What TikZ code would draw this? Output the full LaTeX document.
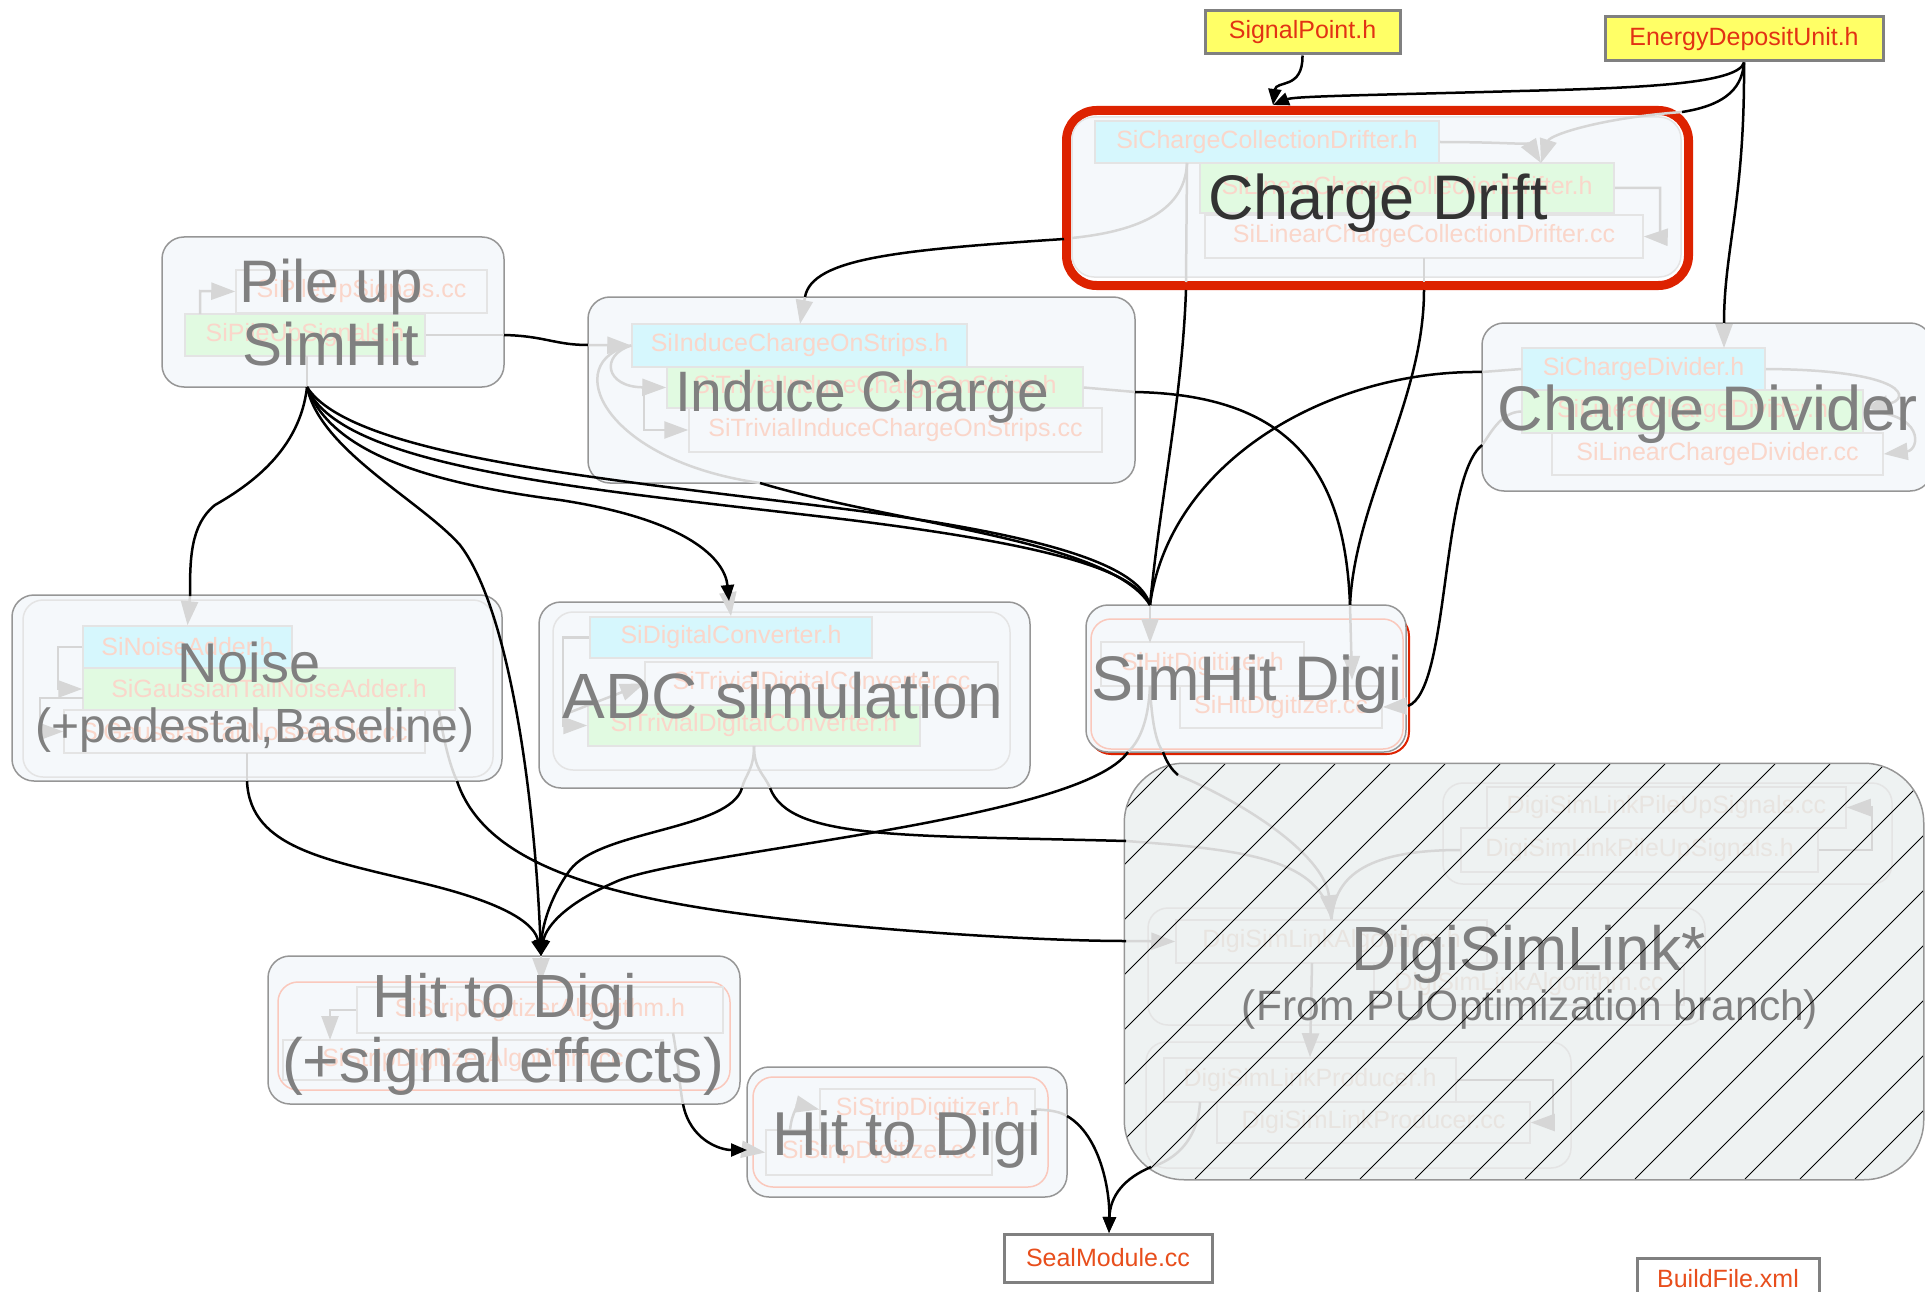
\documentclass[tikz,border=0pt]{standalone}
\usepackage{fontspec}
\setmainfont{Liberation Sans}
\usetikzlibrary{arrows.meta,positioning}
\definecolor{boxfill}{RGB}{245,248,251}
\definecolor{boxline}{RGB}{150,150,150}
\definecolor{fileline}{RGB}{228,228,228}
\definecolor{hcyan}{RGB}{214,247,253}
\definecolor{hgreen}{RGB}{225,250,225}
\definecolor{faintred}{RGB}{250,214,202}
\definecolor{faintgray}{RGB}{232,228,224}
\definecolor{lblgray}{RGB}{128,128,128}
\definecolor{lbldark}{RGB}{51,51,51}
\definecolor{driftred}{RGB}{221,34,0}
\definecolor{salmon}{RGB}{250,200,188}
\definecolor{innergray}{RGB}{214,214,214}
\definecolor{yellowfile}{RGB}{255,255,102}
\definecolor{srcline}{RGB}{128,128,128}
\definecolor{filered}{RGB}{226,50,20}
\definecolor{fileorange}{RGB}{232,78,28}
\definecolor{hatchfill}{RGB}{238,242,242}
\begin{document}
\begin{tikzpicture}[x=1pt,y=-1pt,
  wh/.style 2 args={minimum width=#1,minimum height=#2},
  grp/.style={draw=boxline,line width=1.5pt,fill=boxfill,rounded corners=22pt,inner sep=0pt},
  inframe/.style={draw=#1,line width=1.5pt,rounded corners=20pt,inner sep=0pt},
  file/.style={draw=fileline,line width=1.5pt,fill=boxfill,inner sep=0pt,text=faintred,font=\fontsize{25}{25}\selectfont},
  hfile/.style={file,fill=hcyan},
  gfile/.style={file,fill=hgreen},
  lfile/.style={file,fill=none,text=faintgray},
  lbl/.style={text=lblgray,inner sep=0pt,anchor=base,font=\fontsize{#1}{#1}\selectfont},
  srcfile/.style={draw=srcline,line width=3pt,inner sep=0pt,text=filered,font=\fontsize{25}{25}\selectfont},
  link/.style={draw=black,line width=2.5pt},
  arr/.style={-{Triangle[length=16pt,width=13pt]}},
  dep/.style={draw=innergray,line width=2.5pt},
  garr/.style={-{Triangle[length=24pt,width=17pt]}}]
\clip (0,0) rectangle (1925,1292);

\node[srcfile,fill=yellowfile,wh={195}{43}] (sigpt) at (1302.5,32.5) {SignalPoint.h};
\node[srcfile,fill=yellowfile,wh={278}{44}] (edu) at (1744,39) {EnergyDepositUnit.h};
\node[srcfile,fill=white,wh={208}{48},text=fileorange] (seal) at (1108,1258) {SealModule.cc};
\node[srcfile,fill=white,wh={182}{42},text=fileorange] (build) at (1728,1279) {BuildFile.xml};

\node[draw=driftred,line width=9pt,fill=white,rounded corners=30pt,inner sep=0pt,wh={622}{175}] (drift) at (1377.5,198) {};
\node[grp,draw=fileline,wh={609}{160}] (driftin) at (1376.5,197) {};
\node[hfile,wh={344}{42}] (dH) at (1267,142) {SiChargeCollectionDrifter.h};
\node[gfile,wh={414}{50}] (dLH) at (1407,188) {SiLinearChargeCollectionDrifter.h};
\node[file,wh={438}{43}] (dLC) at (1424,236.5) {SiLinearChargeCollectionDrifter.cc};

\node[grp,wh={342}{150}] (pile) at (333,312) {};
\node[file,wh={251}{43}] (pC) at (361.5,291.5) {SiPileUpSignals.cc};
\node[gfile,wh={240}{42}] (pH) at (305,335) {SiPileUpSignals.h};

\node[grp,wh={547}{186}] (induce) at (861.5,390) {};
\node[hfile,wh={335}{43}] (iH) at (799.5,345.5) {SiInduceChargeOnStrips.h};
\node[gfile,wh={416}{41}] (iTH) at (875,387.5) {SiTrivialInduceChargeOnStrips.h};
\node[file,wh={413}{44}] (iTC) at (895.5,430) {SiTrivialInduceChargeOnStrips.cc};

\node[grp,wh={450}{168}] (divider) at (1707,407) {};
\node[hfile,wh={243}{42}] (vH) at (1643.5,369) {SiChargeDivider.h};
\node[gfile,wh={341}{43}] (vLH) at (1692.5,411.5) {SiLinearChargeDivider.h};
\node[file,wh={331}{42}] (vLC) at (1717.5,454) {SiLinearChargeDivider.cc};

\node[grp,wh={490}{186}] (noise) at (257,688) {};
\node[inframe=fileline,wh={470}{177}] (noisefr) at (258,688.5) {};
\node[hfile,wh={209}{42}] (nH) at (187.5,647) {SiNoiseAdder.h};
\node[gfile,wh={372}{42}] (nGH) at (269,689) {SiGaussianTailNoiseAdder.h};
\node[file,wh={361}{43}] (nGC) at (244.5,731.5) {SiGaussianTailNoiseAdder.cc};

\node[grp,wh={491}{186}] (adc) at (784.5,695) {};
\node[inframe=fileline,wh={457}{158}] (adcfr) at (781.5,691) {};
\node[hfile,wh={282}{41}] (aH) at (731,637.5) {SiDigitalConverter.h};
\node[file,wh={353}{43}] (aTC) at (821.5,683.5) {SiTrivialDigitalConverter.cc};
\node[gfile,wh={332}{41}] (aTH) at (754,725.5) {SiTrivialDigitalConverter.h};

\node[draw=driftred,line width=2pt,rounded corners=22pt,inner sep=0pt,wh={320}{140}] (simback) at (1249,684) {};
\node[grp,wh={320}{147}] (simhit) at (1246,678.5) {};
\node[inframe=salmon,wh={312}{130}] (simfr) at (1247,684) {};
\node[file,wh={203}{44}] (sH) at (1202.5,664) {SiHitDigitizer.h};
\node[file,wh={202}{42}] (sC) at (1281,707) {SiHitDigitizer.cc};

\node[grp,fill=hatchfill,draw=none,rounded corners=60pt,wh={798}{415}] (dsl) at (1524,971.5) {};
\node[inframe=fileline,wh={449}{101}] (dslP) at (1667.5,833.5) {};
\node[lfile,wh={359}{41}] (dPC) at (1666.5,807.5) {DigiSimLinkPileUpSignals.cc};
\node[lfile,wh={357}{44}] (dPH) at (1639.5,850) {DigiSimLinkPileUpSignals.h};
\node[inframe=fileline,wh={557}{117}] (dslA) at (1426.5,966.5) {};
\node[lfile,wh={311}{43}] (dAH) at (1331.5,941.5) {DigiSimLinkAlgorithm.h};
\node[lfile,wh={310}{42}] (dAC) at (1529,984) {DigiSimLinkAlgorithm.cc};
\node[inframe=fileline,wh={425}{126}] (dslR) at (1358.5,1105) {};
\node[lfile,wh={292}{44}] (dRH) at (1310,1080) {DigiSimLinkProducer.h};
\node[lfile,wh={313}{41}] (dRC) at (1373.5,1122.5) {DigiSimLinkProducer.cc};

\node[grp,wh={472}{148}] (hit) at (504,1030) {};
\node[inframe=salmon,wh={452}{108}] (hitfr) at (504,1036) {};
\node[file,wh={366}{46}] (hH) at (540,1010) {SiStripDigitizerAlgorithm.h};
\node[file,wh={380}{40}] (hC) at (473,1060) {SiStripDigitizerAlgorithm.cc};

\node[grp,wh={320}{130}] (strip) at (907,1132) {};
\node[inframe=salmon,wh={295}{110}] (stripfr) at (900.5,1132) {};
\node[file,wh={215}{41}] (tH) at (927.5,1109.5) {SiStripDigitizer.h};
\node[file,wh={226}{45}] (tC) at (879,1152.5) {SiStripDigitizer.cc};

\coordinate (driftIn) at (1273,105);
\coordinate (driftSide) at (1682,112);
\coordinate (divIn) at (1724,323);
\coordinate (driftOutL) at (1064,239);
\coordinate (driftOutA) at (1186,290);
\coordinate (driftOutB) at (1424,290);
\coordinate (induceIn) at (805,297);
\coordinate (pileOut) at (307,387);
\coordinate (pileR) at (504,335);
\coordinate (induceL) at (588,345);
\coordinate (induceB) at (760,483);
\coordinate (induceR) at (1135,392);
\coordinate (noiseIn) at (190,596);
\coordinate (adcIn) at (729,601);
\coordinate (hitIn) at (541,956);
\coordinate (simIn) at (1150,605);
\coordinate (simInB) at (1350,605);
\coordinate (divL) at (1482,372);
\coordinate (divLB) at (1482,445);
\coordinate (simR) at (1408,706);
\coordinate (simOutA) at (1128,752);
\coordinate (simOutB) at (1163,752);
\coordinate (dslTop) at (1178,775);
\coordinate (adcOutA) at (742,788);
\coordinate (adcOutB) at (770,788);
\coordinate (dslInA) at (1126,841);
\coordinate (noiseOutA) at (247,781);
\coordinate (noiseOutB) at (457,781);
\coordinate (dslInB) at (1126,941);
\coordinate (dslOut) at (1151,1167);
\coordinate (hitOut) at (683,1104);
\coordinate (stripIn) at (747,1150);
\coordinate (stripOut) at (1067,1116);
\coordinate (sealIn) at (1109,1233);

\draw[dep] (1187,163) .. controls (1185,215) and (1130,232) .. (1072,238);
\draw[dep] (1187,163) -- (1186,282);
\draw[dep] (1424,258) -- (1424,282);
\draw[dep,garr] (driftSide) .. controls (1600,118) and (1550,135) .. (1541,163);
\draw[dep,garr] (dH.east) .. controls (1500,142) and (1530,145) .. (1541,163);
\draw[dep,garr] (dLH.east) -- (1660,188) -- (1660,237) -- (dLC.east);

\draw[dep,garr] (200,314) -- (200,291) -- (pC.west);
\draw[dep] (pH.east) -- (pileR);
\draw[dep] (307,356) -- (pileOut);

\draw[dep,garr] (induceL) -- (iH.west);
\draw[dep,garr] (induceIn) -- (800,324);
\draw[dep,garr] (iH.west) .. controls (600,355) and (605,387) .. (iTH.west);
\draw[dep,garr] (644,387) -- (644,430) -- (iTC.west);
\draw[dep] (iH.west) .. controls (560,360) and (600,460) .. (induceB);
\draw[dep] (iTH.east) -- (induceR);

\draw[dep,garr] (divIn) -- (1724,348);
\draw[dep] (vH.west) -- (divL);
\draw[dep] (vLH.west) .. controls (1500,412) and (1490,435) .. (divLB);
\draw[dep,garr] (vH.east) .. controls (1910,370) and (1912,400) .. (1864,408);
\draw[dep,garr] (vLH.east) .. controls (1925,412) and (1920,450) .. (vLC.east);

\draw[dep,garr] (noiseIn) -- (nH.north);
\draw[dep,garr] (nH.west) -- (58,647) -- (58,689) -- (nGH.west);
\draw[dep,garr] (83,698) -- (40,698) -- (40,731.5) -- (nGC.west);
\draw[dep] (247,753) -- (noiseOutA);
\draw[dep] (439,710) .. controls (445,750) and (452,770) .. (noiseOutB);

\draw[dep,garr] (adcIn) -- (aH.north);
\draw[dep,garr] (aH.west) -- (563,637.5) -- (563,725.5) -- (aTH.west);
\draw[dep,garr] (563,715) -- (aTC.west);
\draw[dep] (754,746) .. controls (754,770) and (745,775) .. (adcOutA);
\draw[dep] (754,746) .. controls (754,770) and (765,775) .. (adcOutB);

\draw[dep,garr] (simIn) -- (1150,643);
\draw[dep,garr] (simInB) -- (1352,680);
\draw[dep,garr] (simR) -- (sC.east);
\draw[dep] (1150,686) .. controls (1148,730) and (1135,745) .. (simOutA);
\draw[dep] (1150,686) .. controls (1152,730) and (1158,745) .. (simOutB);

\draw[dep,garr] (dslTop) .. controls (1260,810) and (1325,860) .. (dAH.north);
\draw[dep] (dslInA) .. controls (1250,850) and (1320,860) .. (dAH.north);
\draw[dep] (dPH.west) .. controls (1360,850) and (1335,880) .. (dAH.north);
\draw[dep,garr] (dPH.east) -- (1872,850) -- (1872,807.5) -- (dPC.east);
\draw[dep,garr] (dslInB) -- (dAH.west);
\draw[dep,garr] (1312,963) -- (dRH.north);
\draw[dep,garr] (dRH.east) -- (1553,1080) -- (1553,1122.5) -- (dRC.east);
\draw[dep] (1200,1102) .. controls (1198,1140) and (1175,1160) .. (dslOut);

\draw[dep,garr] (hitIn) -- (541,982);
\draw[dep,garr] (hH.west) -- (330,1010) -- (330,1040);
\draw[dep] (673,1033) .. controls (678,1060) and (680,1090) .. (hitOut);

\draw[dep,garr] (stripIn) -- (tC.west);
\draw[dep,garr] (790,1130) .. controls (792,1110) and (800,1105) .. (tH.west);
\draw[dep] (tH.east) .. controls (1052,1110) and (1060,1112) .. (stripOut);

\node[lbl=63,text=lbldark] (driftLbl) at (1378,220) {Charge Drift};
\node[lbl=60] (pileLblA) at (331,302) {Pile up};
\node[lbl=60] (pileLblB) at (331,365) {SimHit};
\node[lbl=57] (induceLbl) at (862,411) {Induce Charge};
\node[lbl=63] (divLbl) at (1708,430) {Charge Divider};
\node[lbl=56] (noiseLblA) at (249,682) {Noise};
\node[lbl=48] (noiseLblB) at (255,742) {(+pedestal,Baseline)};
\node[lbl=64] (adcLbl) at (783,718) {ADC simulation};
\node[lbl=63] (simLbl) at (1247,700) {SimHit Digi};
\node[lbl=62.5] (dslLblA) at (1529,970) {DigiSimLink*};
\node[lbl=42.5] (dslLblB) at (1530,1020) {(From PUOptimization branch)};
\node[lbl=61] (hitLblA) at (505,1017) {Hit to Digi};
\node[lbl=62.5] (hitLblB) at (503,1082) {(+signal effects)};
\node[lbl=62] (stripLbl) at (907,1155) {Hit to Digi};

\begin{scope}
\clip[rounded corners=60pt] (dsl.north west) rectangle (dsl.south east);
\foreach \i in {700,755,...,1925}
  \draw[line width=1pt] (\i,1179) -- ++(415,-415);
\end{scope}
\draw[boxline,line width=1.5pt,rounded corners=60pt] (dsl.north west) rectangle (dsl.south east);

\draw[link,arr] (sigpt.south) .. controls (1303,90) and (1276,80) .. (driftIn);
\draw[link,arr] (edu.south) .. controls (1738,84) and (1640,88) .. (1520,91) .. controls (1380,95) and (1295,96) .. (driftIn);
\draw[link] (edu.south) .. controls (1742,92) and (1720,106) .. (driftSide);
\draw[link] (edu.south) .. controls (1745,200) and (1724,250) .. (divIn);
\draw[link] (driftOutL) .. controls (900,250) and (812,258) .. (induceIn);
\draw[link] (driftOutA) .. controls (1182,400) and (1160,500) .. (simIn);
\draw[link] (driftOutB) .. controls (1424,400) and (1355,500) .. (simInB);
\draw[link] (pileR) .. controls (545,336) and (555,345) .. (induceL);
\draw[link] (pileOut) .. controls (300,450) and (250,485) .. (215,505) .. controls (190,525) and (190,560) .. (noiseIn);
\draw[link,arr] (pileOut) .. controls (320,450) and (420,500) .. (460,545) .. controls (510,610) and (535,800) .. (hitIn);
\draw[link,arr] (pileOut) .. controls (330,450) and (420,482) .. (560,500) .. controls (690,520) and (725,560) .. (adcIn);
\draw[link] (pileOut) .. controls (340,470) and (600,490) .. (850,520) .. controls (1050,545) and (1135,570) .. (simIn);
\draw[link] (pileOut) .. controls (352,458) and (620,480) .. (860,511) .. controls (1060,538) and (1140,568) .. (simIn);
\draw[link] (induceB) .. controls (900,525) and (1110,540) .. (simIn);
\draw[link] (induceR) .. controls (1290,395) and (1345,470) .. (simInB);
\draw[link] (divL) .. controls (1330,370) and (1170,460) .. (simIn);
\draw[link] (divLB) .. controls (1440,480) and (1450,690) .. (simR);
\draw[link,arr] (simOutA) .. controls (1080,820) and (700,850) .. (620,880) .. controls (560,905) and (545,930) .. (hitIn);
\draw[link] (simOutB) .. controls (1167,763) and (1172,770) .. (dslTop);
\draw[link,arr] (adcOutA) .. controls (730,830) and (600,830) .. (570,870) .. controls (548,900) and (542,930) .. (hitIn);
\draw[link] (adcOutB) .. controls (790,840) and (900,835) .. (dslInA);
\draw[link,arr] (noiseOutA) .. controls (250,850) and (330,860) .. (430,885) .. controls (510,905) and (535,925) .. (hitIn);
\draw[link] (noiseOutB) .. controls (490,880) and (650,910) .. (900,930) .. controls (1000,938) and (1080,941) .. (dslInB);
\draw[link,arr] (hitOut) .. controls (690,1140) and (720,1150) .. (stripIn);
\draw[link,arr] (stripOut) .. controls (1100,1135) and (1110,1190) .. (sealIn);
\draw[link,arr] (dslOut) .. controls (1125,1178) and (1110,1195) .. (sealIn);
\end{tikzpicture}
\end{document}
